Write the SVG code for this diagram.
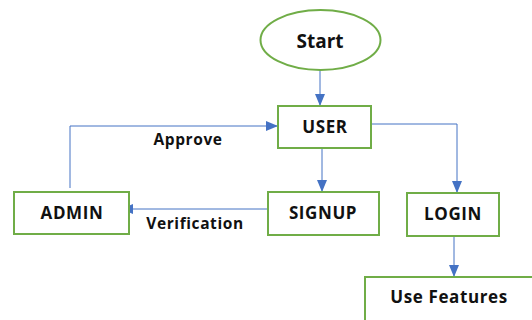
<svg xmlns="http://www.w3.org/2000/svg" width="532" height="320" viewBox="0 0 532 320">
<defs>
<style>
.box{fill:#fff;stroke:#70ad47;stroke-width:2}
.t{font-family:"Open Sans","Liberation Sans",sans-serif;font-weight:bold;fill:#111;text-anchor:middle}
.n{font-size:17px;letter-spacing:0.6px}
.l{font-size:15.5px;letter-spacing:0.6px}
.c{fill:none;stroke:#4472c4;stroke-width:1}
</style>
<marker id="a" markerWidth="12" markerHeight="10" refX="11" refY="5" orient="auto" markerUnits="userSpaceOnUse">
<path d="M0,0 L12,5 L0,10 Z" fill="#4472c4"/>
</marker>
</defs>
<rect width="532" height="320" fill="#fff"/>
<g id="connectors">
<path class="c" d="M320,70 V105" marker-end="url(#a)"/>
<path class="c" d="M70,188 V126 H277" marker-end="url(#a)"/>
<path class="c" d="M371,124 H457 V192" marker-end="url(#a)"/>
<path class="c" d="M322,148 V191" marker-end="url(#a)"/>
<path class="c" d="M268,209 H122" marker-end="url(#a)"/>
<path class="c" d="M454,236 V276" marker-end="url(#a)"/>
</g>
<g id="start">
<ellipse class="box" cx="320.5" cy="40" rx="60" ry="30"/>
<text class="t" x="320" y="48" style="font-size:19px">Start</text>
</g>
<g id="user">
<rect class="box" x="278" y="106" width="93" height="42"/>
<text class="t n" x="325" y="133">USER</text>
</g>
<g id="signup">
<rect class="box" x="268" y="192" width="111" height="43"/>
<text class="t n" x="323" y="219">SIGNUP</text>
</g>
<g id="login">
<rect class="box" x="407" y="193" width="92" height="43"/>
<text class="t n" x="453" y="220">LOGIN</text>
</g>
<g id="admin">
<rect class="box" x="14" y="192" width="115" height="42"/>
<text class="t n" x="72" y="219">ADMIN</text>
</g>
<g id="usefeatures">
<rect class="box" x="365" y="277" width="180" height="60"/>
<text class="t n" x="449" y="303">Use Features</text>
</g>
<text class="t l" x="188" y="145">Approve</text>
<text class="t l" x="195" y="229">Verification</text>
</svg>
